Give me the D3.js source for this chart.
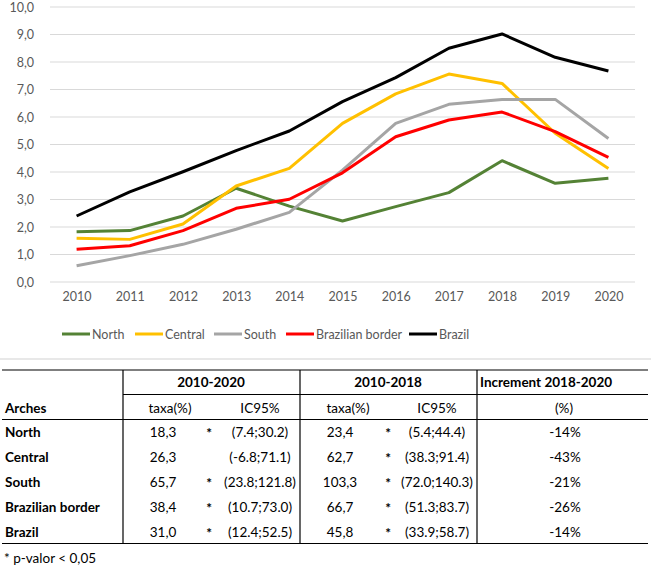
<!DOCTYPE html>
<html><head><meta charset="utf-8">
<script src="https://cdn.jsdelivr.net/npm/d3@7"></script>
<style>body{margin:0;background:#fff}svg{display:block}</style>
</head><body>
<script>
const years = [2010,2011,2012,2013,2014,2015,2016,2017,2018,2019,2020];
const north   = [1.83,1.87,2.40,3.41,2.76,2.22,2.74,3.25,4.41,3.59,3.77];
const central = [1.59,1.55,2.11,3.49,4.13,5.77,6.84,7.56,7.22,5.41,4.13];
const south   = [0.59,0.96,1.37,1.92,2.53,4.07,5.77,6.46,6.64,6.64,5.22];
const border  = [1.19,1.32,1.87,2.68,3.01,3.97,5.28,5.89,6.18,5.47,4.53];
const brazil  = [2.40,3.28,4.01,4.78,5.49,6.56,7.43,8.50,9.02,8.17,7.67];
const seriesNames = ["North","Central","South","Brazilian border","Brazil"];
const seriesColors = ["#548235","#FFC000","#A5A5A5","#FF0000","#000000"];
const yTicks = [0,1,2,3,4,5,6,7,8,9,10];

const arches = ["North","Central","South","Brazilian border","Brazil"];
const taxa1020 = ["18,3","26,3","65,7","38,4","31,0"];
const sig1020 = ["*","","*","*","*"];
const ic1020 = ["(7.4;30.2)","(-6.8;71.1)","(23.8;121.8)","(10.7;73.0)","(12.4;52.5)"];
const taxa1018 = ["23,4","62,7","103,3","66,7","45,8"];
const sig1018 = ["*","*","*","*","*"];
const ic1018 = ["(5.4;44.4)","(38.3;91.4)","(72.0;140.3)","(51.3;83.7)","(33.9;58.7)"];
const increment = ["-14%","-43%","-21%","-26%","-14%"];

const W = 651, H = 567;
const svg = d3.select("body").append("svg").attr("width",W).attr("height",H);
const font = "Lato, 'Open Sans', sans-serif";

const x = d3.scalePoint().domain(years).range([50,635]).padding(0.5);
const y = d3.scaleLinear().domain([0,10]).range([282,7]);

// gridlines
svg.append("g").selectAll("line").data(yTicks).join("line")
  .attr("x1",50).attr("x2",635).attr("y1",d=>y(d)).attr("y2",d=>y(d))
  .attr("stroke","#d9d9d9").attr("stroke-width",1);

// y labels
const yAxis = d3.axisLeft(y).tickValues(yTicks).tickSize(0).tickPadding(0)
  .tickFormat(d=>d3.format(".1f")(d).replace(".",","));
const gy = svg.append("g").attr("transform","translate(34,0)").call(yAxis);
gy.select(".domain").remove();
gy.selectAll("text").attr("font-family",font).attr("font-size",12.5).attr("fill","#595959");

// x labels
const xAxis = d3.axisBottom(x).tickSize(0).tickPadding(0);
const gx = svg.append("g").attr("transform","translate(0,292)").call(xAxis);
gx.select(".domain").remove();
gx.selectAll("text").attr("font-family",font).attr("font-size",12.5).attr("fill","#595959");

// lines
const allSeries = [north,central,south,border,brazil];
const line = d3.line().x((d,i)=>x(years[i])).y(d=>y(d));
svg.append("g").selectAll("path").data(allSeries).join("path")
  .attr("d",d=>line(d)).attr("fill","none")
  .attr("stroke",(d,i)=>seriesColors[i]).attr("stroke-width",3)
  .attr("stroke-linejoin","round");

// legend
const legX = [62,135,214,286,409];
const lg = svg.append("g").selectAll("g").data(seriesNames).join("g")
  .attr("transform",(d,i)=>`translate(${legX[i]},334)`);
lg.append("line").attr("x1",0).attr("x2",28).attr("y1",0).attr("y2",0)
  .attr("stroke",(d,i)=>seriesColors[i]).attr("stroke-width",3);
lg.append("text").attr("x",30).attr("y",4.5).text(d=>d)
  .attr("font-family",font).attr("font-size",12.5).attr("fill","#595959");

// separator
svg.append("line").attr("x1",0).attr("x2",W).attr("y1",359).attr("y2",359)
  .attr("stroke","#e0e0e0").attr("stroke-width",1.5);

// table
const t = svg.append("g").attr("font-family","Lato, Carlito, sans-serif").attr("font-size",13.5).attr("fill","#000");
const hl = (x1,x2,yy)=>t.append("line").attr("x1",x1).attr("x2",x2).attr("y1",yy).attr("y2",yy).attr("stroke","#000").attr("stroke-width",1.2);
const vl = (xx,y1,y2)=>t.append("line").attr("x1",xx).attr("x2",xx).attr("y1",y1).attr("y2",y2).attr("stroke","#000").attr("stroke-width",1.2);
hl(2,648,370); hl(123,648,394.5); hl(2,648,419.5); hl(2,648,543.5);
vl(123,370,543.5); vl(300,370,543.5); vl(477,370,543.5);

const txt = (s,xx,yy,anchor,bold)=>t.append("text").attr("x",xx).attr("y",yy)
  .attr("text-anchor",anchor).attr("font-weight",bold?"bold":"normal").text(s);
txt("2010-2020",211,387,"middle",true);
txt("2010-2018",388,387,"middle",true);
txt("Increment 2018-2020",480,387,"start",true);
txt("Arches",5,412.5,"start",true);
txt("taxa(%)",170,412.5,"middle",false);
txt("IC95%",260,412.5,"middle",false);
txt("taxa(%)",348,412.5,"middle",false);
txt("IC95%",437,412.5,"middle",false);
txt("(%)",564,412.5,"middle",false);

const rowY = d3.scaleBand().domain(arches).range([420,545]);
arches.forEach((a,i)=>{
  const yy = rowY(a)+rowY.bandwidth()/2+4.8;
  txt(a,5,yy,"start",true);
  txt(taxa1020[i],163,yy,"middle",false);
  txt(sig1020[i],209,yy+1,"middle",true);
  txt(ic1020[i],260,yy,"middle",false);
  txt(taxa1018[i],340,yy,"middle",false);
  txt(sig1018[i],388,yy+1,"middle",true);
  txt(ic1018[i],437,yy,"middle",false);
  txt(increment[i],565,yy,"middle",false);
});
txt("* p-valor < 0,05",4,562.5,"start",false);
</script>
</body></html>
